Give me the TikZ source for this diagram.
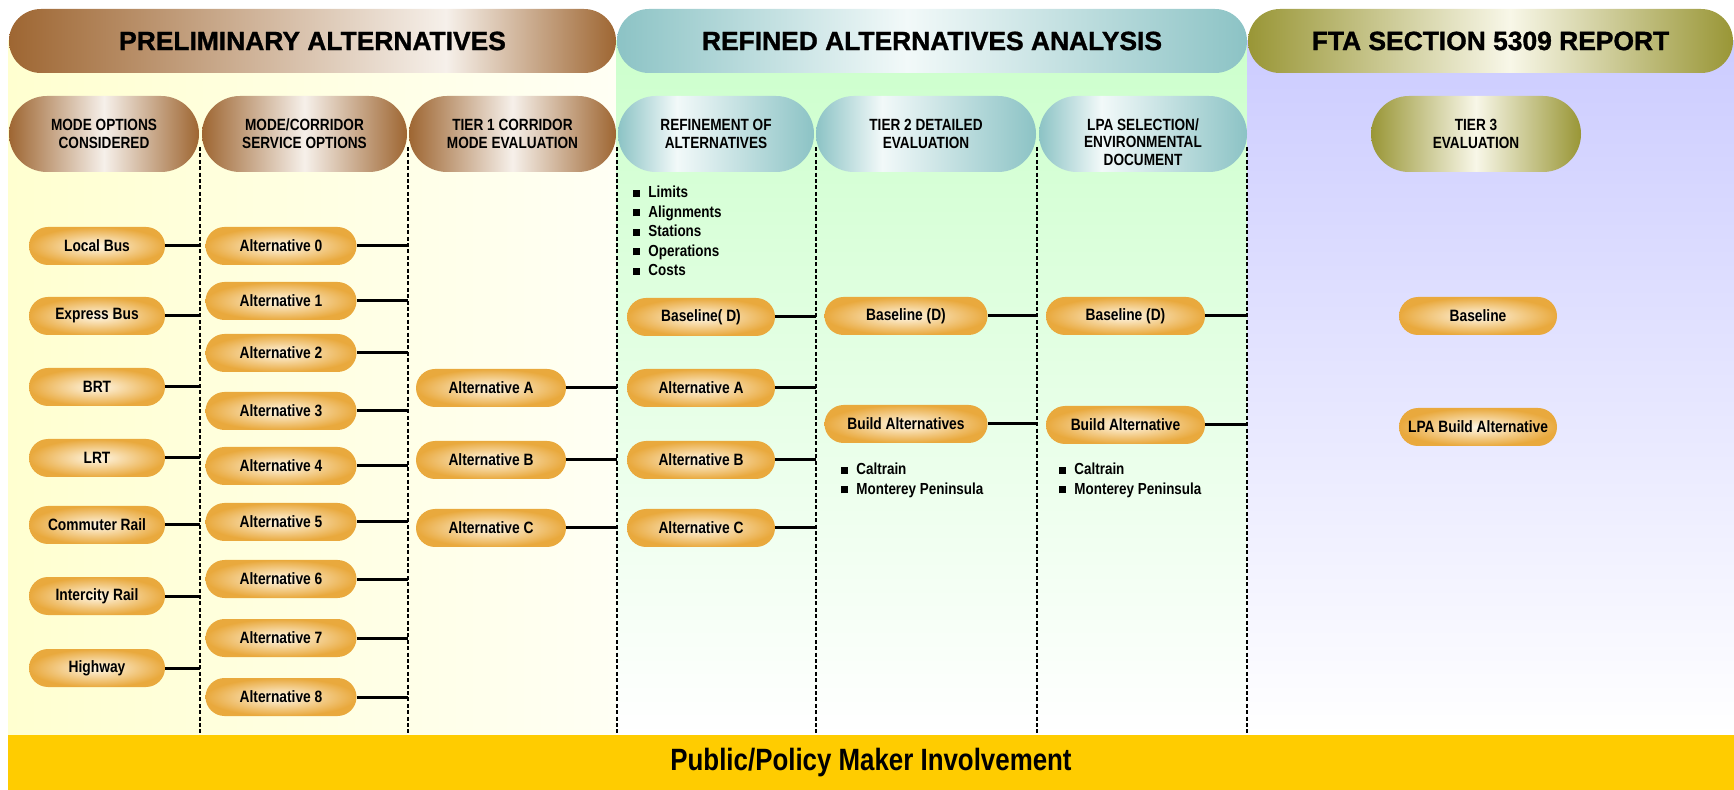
\documentclass[tikz,border=0pt]{standalone}
\usepackage{fontspec}
\setmainfont{Liberation Sans}
\newfontfamily\narrowbf[FakeStretch=0.84]{Liberation Sans}
\newfontfamily\heavybf[FakeBold=1.2]{Liberation Sans}

\definecolor{brownedge}{HTML}{9E6632}
\definecolor{brownglow}{HTML}{F6F0EA}
\definecolor{tealedge}{HTML}{8CC3C5}
\definecolor{tealglow}{HTML}{F2F9F9}
\definecolor{oliveedge}{HTML}{999636}
\definecolor{oliveglow}{HTML}{F8F7E8}
\definecolor{goldedge}{HTML}{E9A93D}
\definecolor{goldglow}{HTML}{FFF7E6}
\definecolor{padyellow}{HTML}{FFFFD0}
\definecolor{padpale}{HTML}{FFFFF4}
\definecolor{padgreen}{HTML}{CCFFCC}
\definecolor{padlilac}{HTML}{CCCCFF}
\definecolor{baryellow}{HTML}{FFCC00}

% light bands across the headers
\pgfdeclarehorizontalshading{brownband}{100bp}{color(0bp)=(brownedge); color(25bp)=(brownedge); color(61bp)=(brownglow); color(75bp)=(brownedge); color(100bp)=(brownedge)}
\pgfdeclarehorizontalshading{tealband}{100bp}{color(0bp)=(tealedge); color(25bp)=(tealedge); color(48bp)=(tealglow); color(75bp)=(tealedge); color(100bp)=(tealedge)}
\pgfdeclarehorizontalshading{oliveband}{100bp}{color(0bp)=(oliveedge); color(25bp)=(oliveedge); color(52bp)=(oliveglow); color(75bp)=(oliveedge); color(100bp)=(oliveedge)}
\pgfdeclarehorizontalshading{brownmid}{100bp}{color(0bp)=(brownedge); color(25bp)=(brownedge); color(50bp)=(brownglow); color(75bp)=(brownedge); color(100bp)=(brownedge)}
\pgfdeclarehorizontalshading{tealside}{100bp}{color(0bp)=(tealedge); color(25bp)=(tealedge); color(40bp)=(tealglow); color(75bp)=(tealedge); color(100bp)=(tealedge)}
\pgfdeclarehorizontalshading{olivemid}{100bp}{color(0bp)=(oliveedge); color(25bp)=(oliveedge); color(50bp)=(oliveglow); color(75bp)=(oliveedge); color(100bp)=(oliveedge)}

\newcommand{\sqbullet}{\rule[0.6pt]{3.5pt}{3.5pt}\hspace{4pt}}

\begin{document}
\begin{tikzpicture}[x=0.5pt, y=-0.5pt]
	\tikzstyle{every node}=[inner sep=1pt, align=center]
	\tikzstyle{header}=[shade, rounded corners=16pt, minimum height=32pt, font=\heavybf\bfseries\fontsize{13.2}{15}\selectfont]
	\tikzstyle{phase}=[shade, rounded corners=19pt, minimum height=38pt, font=\narrowbf\bfseries\fontsize{8.1}{8.8}\selectfont]
	\tikzstyle{pill}=[rounded corners=9.5pt, minimum height=19pt, inner color=goldglow, outer color=goldedge, font=\narrowbf\bfseries\fontsize{8.2}{9}\selectfont]
	\tikzstyle{bullets}=[anchor=north west, align=left, inner sep=0pt, font=\narrowbf\bfseries\fontsize{8}{9.75}\selectfont]
	\tikzstyle{divider}=[dash pattern=on 2pt off 1.2pt, line width=1.1pt]
	\tikzstyle{link}=[line width=1.5pt]
	\useasboundingbox (0,0) rectangle (1734,790);

	% coloured backgrounds of the three stages
	\shade[left color=padyellow, right color=padpale] (8,41) rectangle (616,735);
	\shade[top color=padgreen, bottom color=white] (616,41) rectangle (1247,735);
	\shade[top color=padlilac, bottom color=white] (1247,41) rectangle (1734,735);

	% stage headers
	\node[header, shading=brownband, minimum width=303.5pt] (prelim) at (312.5,41) {PRELIMINARY ALTERNATIVES};
	\node[header, shading=tealband, minimum width=315pt] (refined) at (932,41) {REFINED ALTERNATIVES ANALYSIS};
	\node[header, shading=oliveband, minimum width=242.5pt] (fta) at (1490.5,41) {FTA SECTION 5309 REPORT};

	% column headers
	\node[phase, shading=brownmid, minimum width=95pt] (modes) at (104,134) {MODE OPTIONS\\CONSIDERED};
	\node[phase, shading=brownmid, minimum width=102.5pt] (service) at (304.5,134) {MODE/CORRIDOR\\SERVICE OPTIONS};
	\node[phase, shading=brownmid, minimum width=103.5pt] (tier1) at (512.5,134) {TIER 1 CORRIDOR\\MODE EVALUATION};
	\node[phase, shading=tealside, minimum width=98pt] (refine) at (716,134) {REFINEMENT OF\\ALTERNATIVES};
	\node[phase, shading=tealside, minimum width=110pt] (tier2) at (926,134) {TIER 2 DETAILED\\EVALUATION};
	\node[phase, shading=tealside, minimum width=104pt] (lpa) at (1143,134) {\rule{0pt}{13.8pt}LPA SELECTION/\\ENVIRONMENTAL\\DOCUMENT};
	\node[phase, shading=olivemid, minimum width=105pt] (tier3) at (1476,134) {TIER 3\\EVALUATION};

	% mode options
	\node[pill, minimum width=68pt] (localbus) at (97,246) {Local Bus};
	\node[pill, minimum width=68pt] (express) at (97,316) {Express Bus};
	\node[pill, minimum width=68pt] (brt) at (97,387) {BRT};
	\node[pill, minimum width=68pt] (lrt) at (97,458) {LRT};
	\node[pill, minimum width=68pt] (commuter) at (97,525) {Commuter Rail};
	\node[pill, minimum width=68pt] (intercity) at (97,596) {Intercity Rail};
	\node[pill, minimum width=68pt] (highway) at (97,668) {Highway};

	% corridor service options
	\node[pill, minimum width=75.5pt] (alt0) at (281,246) {Alternative 0};
	\node[pill, minimum width=75.5pt] (alt1) at (281,301) {Alternative 1};
	\node[pill, minimum width=75.5pt] (alt2) at (281,353) {Alternative 2};
	\node[pill, minimum width=75.5pt] (alt3) at (281,411) {Alternative 3};
	\node[pill, minimum width=75.5pt] (alt4) at (281,466) {Alternative 4};
	\node[pill, minimum width=75.5pt] (alt5) at (281,522) {Alternative 5};
	\node[pill, minimum width=75.5pt] (alt6) at (281,579) {Alternative 6};
	\node[pill, minimum width=75.5pt] (alt7) at (281,638) {Alternative 7};
	\node[pill, minimum width=75.5pt] (alt8) at (281,697) {Alternative 8};

	% tier 1
	\node[pill, minimum width=75pt] (tA) at (491,388) {Alternative A};
	\node[pill, minimum width=75pt] (tB) at (491,460) {Alternative B};
	\node[pill, minimum width=75pt] (tC) at (491,528) {Alternative C};

	% refinement
	\node[bullets] (refinelist) at (633,186) {\sqbullet Limits\\\sqbullet Alignments\\\sqbullet Stations\\\sqbullet Operations\\\sqbullet Costs};
	\node[pill, minimum width=74pt] (rD) at (701,317) {Baseline( D)};
	\node[pill, minimum width=74pt] (rA) at (701,388) {Alternative A};
	\node[pill, minimum width=74pt] (rB) at (701,460) {Alternative B};
	\node[pill, minimum width=74pt] (rC) at (701,528) {Alternative C};

	% tier 2
	\node[pill, minimum width=81.5pt] (eD) at (906,316) {Baseline (D)};
	\node[pill, minimum width=81.5pt] (ebuild) at (906,424) {Build Alternatives};
	\node[bullets] (tier2list) at (841,463) {\sqbullet Caltrain\\\sqbullet Monterey Peninsula};

	% lpa selection
	\node[pill, minimum width=79.5pt] (lD) at (1125.5,316) {Baseline (D)};
	\node[pill, minimum width=79.5pt] (lbuild) at (1125.5,425) {Build Alternative};
	\node[bullets] (lpalist) at (1059,463) {\sqbullet Caltrain\\\sqbullet Monterey Peninsula};

	% tier 3
	\node[pill, minimum width=79pt] (fbase) at (1478,316) {Baseline};
	\node[pill, minimum width=79pt] (flpa) at (1478,427) {LPA Build Alternative};

	\node[fill=baryellow, minimum width=863pt, minimum height=27.5pt, font=\narrowbf\bfseries\fontsize{15.4}{18}\selectfont] (public) at (871,762.5) {Public/Policy Maker Involvement};

	% column dividers
	\coordinate (d1) at (200,147);
	\coordinate (d2) at (408,147);
	\coordinate (d3) at (617,147);
	\coordinate (d4) at (816,147);
	\coordinate (d5) at (1037,147);
	\coordinate (d6) at (1247,147);
	\draw[divider] (d1) -- (d1 |- public.north);
	\draw[divider] (d2) -- (d2 |- public.north);
	\draw[divider] (d3) -- (d3 |- public.north);
	\draw[divider] (d4) -- (d4 |- public.north);
	\draw[divider] (d5) -- (d5 |- public.north);
	\draw[divider] (d6) -- (d6 |- public.north);

	% ties to the dividers
	\draw[link] (localbus.east) -- (localbus -| d1);
	\draw[link] (express.east) -- (express -| d1);
	\draw[link] (brt.east) -- (brt -| d1);
	\draw[link] (lrt.east) -- (lrt -| d1);
	\draw[link] (commuter.east) -- (commuter -| d1);
	\draw[link] (intercity.east) -- (intercity -| d1);
	\draw[link] (highway.east) -- (highway -| d1);
	\draw[link] (alt0.east) -- (alt0 -| d2);
	\draw[link] (alt1.east) -- (alt1 -| d2);
	\draw[link] (alt2.east) -- (alt2 -| d2);
	\draw[link] (alt3.east) -- (alt3 -| d2);
	\draw[link] (alt4.east) -- (alt4 -| d2);
	\draw[link] (alt5.east) -- (alt5 -| d2);
	\draw[link] (alt6.east) -- (alt6 -| d2);
	\draw[link] (alt7.east) -- (alt7 -| d2);
	\draw[link] (alt8.east) -- (alt8 -| d2);
	\draw[link] (tA.east) -- (tA -| d3);
	\draw[link] (tB.east) -- (tB -| d3);
	\draw[link] (tC.east) -- (tC -| d3);
	\draw[link] (rD.east) -- (rD -| d4);
	\draw[link] (rA.east) -- (rA -| d4);
	\draw[link] (rB.east) -- (rB -| d4);
	\draw[link] (rC.east) -- (rC -| d4);
	\draw[link] (eD.east) -- (eD -| d5);
	\draw[link] (ebuild.east) -- (ebuild -| d5);
	\draw[link] (lD.east) -- (lD -| d6);
	\draw[link] (lbuild.east) -- (lbuild -| d6);
\end{tikzpicture}
\end{document}
